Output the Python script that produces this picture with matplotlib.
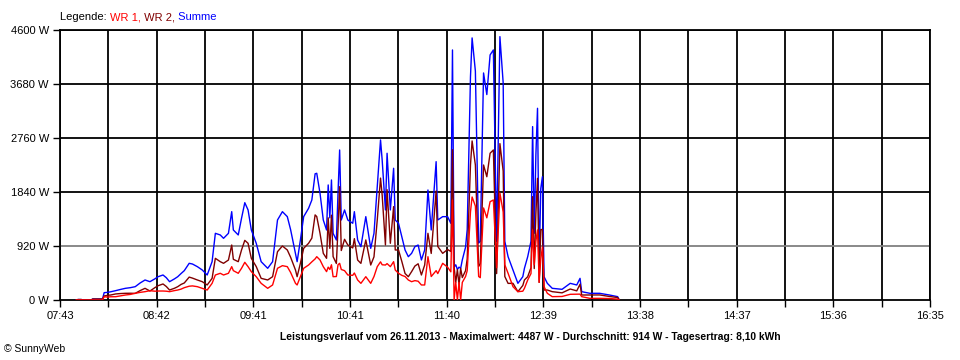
import matplotlib
matplotlib.use("Agg")
import matplotlib.pyplot as plt
import numpy as np

# Leistungsverlauf 26.11.2013 (Werte in W)
zeit = ["07:53", "07:54", "07:56", "07:57", "08:02", "08:03", "08:09", "08:10", "08:12", "08:14",
        "08:17", "08:20", "08:23", "08:26", "08:29", "08:32", "08:35", "08:38", "08:41", "08:43",
        "08:46", "08:48", "08:50", "08:53", "08:55", "08:57", "08:59", "09:02", "09:04", "09:07",
        "09:10", "09:13", "09:16", "09:18", "09:21", "09:23", "09:26", "09:28", "09:29", "09:32",
        "09:34", "09:36", "09:38", "09:40", "09:43", "09:46", "09:50", "09:53", "09:56", "09:59",
        "10:02", "10:04", "10:07", "10:08", "10:10", "10:12", "10:15", "10:17", "10:19", "10:20",
        "10:22", "10:24", "10:26", "10:27", "10:28", "10:29", "10:30", "10:32", "10:33", "10:34",
        "10:35", "10:37", "10:39", "10:42", "10:43", "10:45", "10:47", "10:50", "10:53", "10:55",
        "10:57", "10:59", "11:00", "11:02", "11:03", "11:05", "11:07", "11:08", "11:10", "11:12",
        "11:14", "11:16", "11:18", "11:20", "11:22", "11:24", "11:26", "11:28", "11:30", "11:33",
        "11:34", "11:37", "11:40", "11:42", "11:43", "11:44", "11:45", "11:46", "11:47", "11:48",
        "11:49", "11:51", "11:52", "11:54", "11:55", "11:57", "11:59", "12:00", "12:02", "12:04",
        "12:06", "12:08", "12:10", "12:12", "12:14", "12:15", "12:17", "12:20", "12:23", "12:26",
        "12:27", "12:29", "12:31", "12:32", "12:33", "12:34", "12:35", "12:36", "12:37", "12:38",
        "12:39", "12:41", "12:44", "12:50", "12:55", "12:59", "13:01", "13:02", "13:07", "13:13",
        "13:19", "13:24", "13:25"]

summe = [0, 8, 8, 0, 0, 17, 17, 125, 130, 140,
         159, 180, 199, 210, 227, 290, 341, 312, 360, 397,
         426, 380, 312, 360, 397, 450, 500, 625, 613, 568,
         511, 426, 653, 1136, 1108, 1051, 1136, 1505, 1193, 1108,
         1392, 1658, 1534, 1193, 966, 653, 540, 653, 1363, 1505,
         1420, 1200, 795, 653, 1022, 1420, 1562, 1704, 2150, 2159,
         1818, 1363, 1193, 1960, 1400, 2045, 1136, 1022, 1818, 2556,
         1363, 1534, 1363, 1307, 1505, 1022, 908, 1420, 880, 1136,
         1931, 2727, 2386, 1534, 2500, 1534, 2244, 1363, 1307, 1079,
         852, 738, 795, 908, 937, 682, 852, 1874, 1193, 2357,
         1363, 1420, 1420, 1307, 4260, 560, 600, 520, 560, 540,
         682, 900, 1200, 3800, 4465, 3900, 971, 1000, 3868, 3500,
         4175, 4260, 1000, 4487, 3698, 1000, 738, 511, 284, 397,
         540, 738, 1000, 2954, 1136, 2471, 3266, 600, 1900, 2101,
         397, 284, 199, 182, 284, 256, 369, 142, 114, 114,
         85, 57, 0]

wr1 = [0, 0, 0, 0, 0, 0, 0, 56, 50, 55,
       56, 70, 85, 95, 114, 130, 142, 159, 150, 153,
       153, 150, 142, 160, 170, 185, 210, 235, 240, 227,
       199, 170, 284, 426, 455, 426, 455, 568, 500, 455,
       540, 642, 568, 483, 397, 284, 199, 256, 540, 585,
       568, 470, 284, 256, 397, 540, 596, 650, 700, 738,
       682, 568, 483, 560, 520, 600, 397, 400, 600, 625,
       520, 500, 426, 420, 460, 341, 284, 397, 284, 400,
       568, 650, 600, 596, 620, 568, 653, 511, 455, 420,
       400, 341, 312, 330, 320, 256, 256, 738, 400, 500,
       450, 625, 560, 480, 1700, 0, 300, 0, 300, 0,
       300, 400, 500, 1500, 1755, 1600, 400, 380, 1568, 1400,
       1675, 1704, 550, 1823, 1500, 600, 455, 227, 142, 150,
       199, 341, 450, 1193, 600, 1000, 1193, 300, 700, 900,
       227, 114, 57, 60, 97, 100, 100, 57, 28, 28,
       25, 15, 0]

y_werte = [0, 920, 1840, 2760, 3680, 4600]
x_labels = ["07:43", "08:42", "09:41", "10:41", "11:40", "12:39", "13:38", "14:37", "15:36", "16:35"]
start, ende = 463, 995   # 07:43 .. 16:35 in Minuten


def minuten(s):
    h, m = s.split(":")
    return int(h) * 60 + int(m)


t = np.array([minuten(z) for z in zeit])
summe = np.array(summe)
wr1 = np.array(wr1)
wr2 = np.clip(summe - wr1, 0, None)

plt.rcParams['font.family'] = ['Liberation Sans', 'DejaVu Sans']

fig = plt.figure(figsize=(9.6, 3.6), dpi=100)
ax = fig.add_axes([60 / 960, 60 / 360, 870 / 960, 270 / 360])

# Gitter
xt = np.linspace(start, ende, 19)
for x in xt:
    ax.axvline(x, color="black", lw=1.3, zorder=1)
for y in y_werte[1:]:
    ax.axhline(y, color="#808080" if y == 920 else "black", lw=1.3, zorder=1)

ax.plot(t, summe, color="#0000ff", lw=1.0, zorder=3)
ax.plot(t, wr2, color="#800000", lw=1.0, zorder=4)
ax.plot(t, wr1, color="#ff0000", lw=1.0, zorder=5)

ax.set_xlim(start, ende)
ax.set_ylim(0, 4600)
ax.set_xticks(xt)
lab = []
for i in range(len(xt)):
    lab += [x_labels[i // 2] if i % 2 == 0 else ""]
ax.set_xticklabels(lab)
ax.set_yticks(y_werte)
ax.set_yticklabels([str(y) + " W" for y in y_werte])
ax.tick_params(axis="both", length=5, width=1, labelsize=8, colors="black", pad=3)
for s in ax.spines.values():
    s.set_linewidth(1.3)

# Legende oben links
tx = fig.text(60 / 960, 1 - 17 / 360, "Legende: ", fontsize=8, va="center")
farben = [("WR 1,", "#ff0000"), (" WR 2,", "#800000"), (" Summe", "#0000ff")]
vor = tx
for txt, c in farben:
    vor = ax.annotate(txt, xy=(1, 0), xycoords=vor, va="bottom", ha="left",
                      fontsize=8, color=c, annotation_clip=False)

fig.text(530 / 960, 1 - 337 / 360,
         "Leistungsverlauf vom 26.11.2013 - Maximalwert: 4487 W - Durchschnitt: 914 W - Tagesertrag: 8,10 kWh",
         fontsize=7.4, fontweight="bold", ha="center", va="center")
fig.text(4 / 960, 1 - 349 / 360, "© SunnyWeb", fontsize=7.5, va="center")

fig.savefig("out.png", dpi=100)
